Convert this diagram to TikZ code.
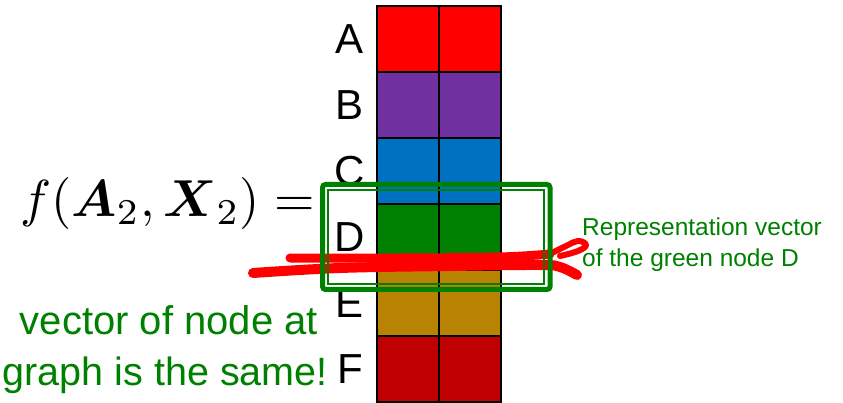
\documentclass[tikz,border=0pt]{standalone}
\usepackage{amsmath}
\usepackage{fontspec}
\setmainfont{Liberation Sans}
\usepackage{tikz}

\definecolor{rowA}{RGB}{255,0,0}
\definecolor{rowB}{RGB}{112,48,160}
\definecolor{rowC}{RGB}{0,112,192}
\definecolor{rowD}{RGB}{0,128,0}
\definecolor{rowE}{RGB}{184,132,0}
\definecolor{rowF}{RGB}{192,0,0}
\definecolor{txtgreen}{RGB}{0,128,0}

\tikzset{
  cell/.style={draw=black, line width=2.5pt, minimum width=62pt, minimum height=66pt, inner sep=0pt},
  rowlab/.style={font=\fontsize{42}{48}\selectfont, inner sep=0pt},
  note/.style={text=txtgreen, inner sep=0pt, align=left},
  scribble/.style={red, line width=10pt, line cap=round, line join=round}
}

\begin{document}
\begin{tikzpicture}[x=1pt,y=-1pt]
\useasboundingbox (0,0) rectangle (843,403);
% Grid of embeddings
\foreach \c/\n [count=\i] in {rowA/A,rowB/B,rowC/C,rowD/D,rowE/E,rowF/F}{
  \node[cell, fill=\c] (l\i) at (408,{6+66*(\i-0.5)}) {};
  \node[cell, fill=\c] (r\i) at (470,{6+66*(\i-0.5)}) {};
  \node[rowlab] (n\i) at (350,{6+66*(\i-0.5)}) {\n};
}
% Formula
\node[scale=5.2, transform shape, anchor=east, inner sep=0pt] (eq) at (316,204)
  {$f(\boldsymbol{A}_2,\boldsymbol{X}_2) =$};
% Text on the left
\node[note, font=\fontsize{40}{46}\selectfont, anchor=base east] (t1) at (318,334) {vector of node at};
\node[note, font=\fontsize{39.5}{46}\selectfont, anchor=base east] (t2) at (328,385) {graph is the same!};
% Red scribble
\draw[scribble] plot[smooth, tension=0.6] coordinates {(253,273) (340,268) (450,266) (540,265) (560,267) (577,275)};
\draw[scribble, line width=9pt] plot[smooth, tension=0.6] coordinates {(290,258) (400,258) (500,257) (550,254)};
\draw[scribble, line width=6pt] plot[smooth, tension=0.7] coordinates {(548,255) (566,246) (578,241) (586,245) (578,251) (560,256)};
% Green box round node D
\draw[txtgreen, line width=5pt, rounded corners=3pt] (322.5,184.5) rectangle (550,289.5);
\draw[txtgreen, line width=1.2pt] (328,190) rectangle (544,284);
\node[note, font=\fontsize{24.5}{31}\selectfont, anchor=west] (rep) at (582,245)
  {Representation vector\\of the green node D};
\end{tikzpicture}
\end{document}
